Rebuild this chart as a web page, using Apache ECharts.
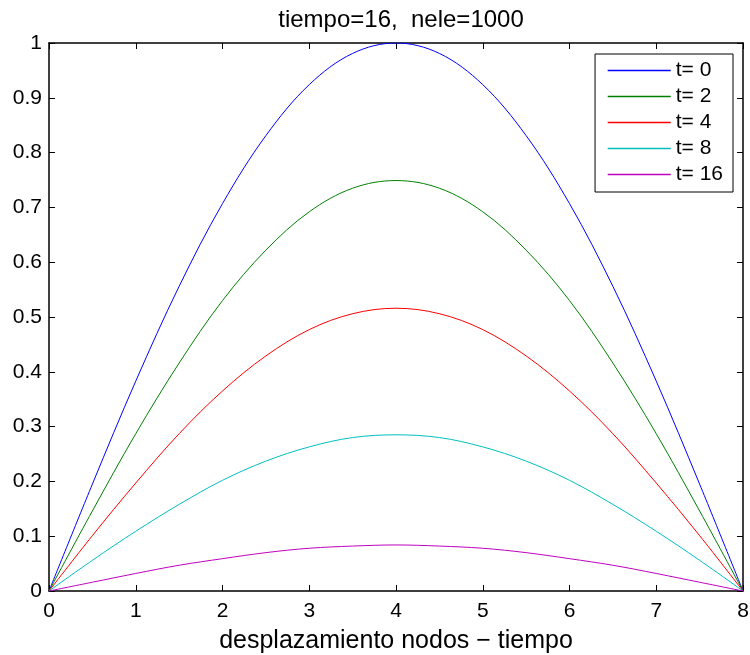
<!DOCTYPE html>
<html>
<head>
<meta charset="utf-8">
<script src="https://cdn.jsdelivr.net/npm/echarts@6/dist/echarts.min.js"></script>
<style>html,body{margin:0;padding:0;background:#fff}#c{width:750px;height:655px}</style>
</head>
<body>
<div id="c"></div>
<script>
const titleText = 'tiempo=16,  nele=1000';
const xLabel = 'desplazamiento nodos \u2212 tiempo';
const xs = [0, 0.5, 1, 1.5, 2, 2.5, 3, 3.5, 4, 4.5, 5, 5.5, 6, 6.5, 7, 7.5, 8];
const seriesNames = ['t= 0', 't= 2', 't= 4', 't= 8', 't= 16'];
const t0  = [0, 0.195, 0.383, 0.556, 0.707, 0.831, 0.924, 0.981, 1.000, 0.981, 0.924, 0.831, 0.707, 0.556, 0.383, 0.195, 0];
const t2  = [0, 0.146, 0.287, 0.416, 0.530, 0.622, 0.692, 0.735, 0.749, 0.735, 0.692, 0.622, 0.530, 0.416, 0.287, 0.146, 0];
const t4  = [0, 0.101, 0.197, 0.287, 0.365, 0.429, 0.477, 0.506, 0.516, 0.506, 0.477, 0.429, 0.365, 0.287, 0.197, 0.101, 0];
const t8  = [0, 0.056, 0.109, 0.158, 0.202, 0.237, 0.263, 0.280, 0.285, 0.280, 0.263, 0.237, 0.202, 0.158, 0.109, 0.056, 0];
const t16 = [0, 0.016, 0.032, 0.047, 0.059, 0.070, 0.078, 0.082, 0.084, 0.082, 0.078, 0.070, 0.059, 0.047, 0.032, 0.016, 0];
const colors = ['#0000ff', '#008000', '#ff0000', '#00bfbf', '#bf00bf'];
const allSeries = [t0, t2, t4, t8, t16];

const FONT = "'Liberation Sans', Arial, Helvetica, sans-serif";
const chart = echarts.init(document.getElementById('c'), null, {renderer: 'canvas'});

const axisLine = {show: true, onZero: false, lineStyle: {color: '#000', width: 1.5}};
const tick = {show: true, inside: true, length: 6, lineStyle: {color: '#000', width: 1}};

chart.setOption({
  animation: false,
  backgroundColor: '#fff',
  title: {
    text: titleText,
    left: 396,
    top: 3,
    textAlign: 'center',
    textStyle: {fontFamily: FONT, fontSize: 24, fontWeight: 'normal', color: '#000'}
  },
  grid: {left: 49, right: 7, top: 43, bottom: 64, containLabel: false, outerBoundsMode: 'none'},
  legend: {
    right: 17,
    top: 54,
    orient: 'vertical',
    data: seriesNames,
    itemWidth: 63,
    itemHeight: 14,
    itemGap: 5,
    padding: [6, 10, 7, 12],
    borderColor: '#000',
    borderWidth: 1,
    borderRadius: 0,
    backgroundColor: '#fff',
    itemStyle: {opacity: 0},
    lineStyle: {width: 1.3},
    textStyle: {fontFamily: FONT, fontSize: 21, lineHeight: 21, color: '#000'}
  },
  xAxis: [{
    type: 'value', min: 0, max: 8, interval: 1,
    axisLine: axisLine, axisTick: tick,
    splitLine: {show: false},
    axisLabel: {fontFamily: FONT, fontSize: 21, color: '#000', margin: 10},
    name: xLabel, nameLocation: 'middle', nameGap: 38,
    nameTextStyle: {fontFamily: FONT, fontSize: 25, color: '#000'}
  }, {
    type: 'value', min: 0, max: 8, interval: 1, position: 'top',
    axisLine: axisLine, axisTick: tick, splitLine: {show: false},
    axisLabel: {show: false}
  }],
  yAxis: [{
    type: 'value', min: 0, max: 1, interval: 0.1,
    axisLine: axisLine, axisTick: tick, splitLine: {show: false},
    axisLabel: {fontFamily: FONT, fontSize: 21, color: '#000', margin: 7}
  }, {
    type: 'value', min: 0, max: 1, interval: 0.1, position: 'right',
    axisLine: axisLine, axisTick: tick, splitLine: {show: false},
    axisLabel: {show: false}
  }],
  series: allSeries.map((vals, i) => ({
    name: seriesNames[i],
    type: 'line',
    xAxisIndex: 0, yAxisIndex: 0,
    data: xs.map((x, j) => [x, vals[j]]),
    smooth: 0.35,
    symbol: 'none',
    color: colors[i],
    lineStyle: {color: colors[i], width: 1},
    z: 2
  }))
});
</script>
</body>
</html>
